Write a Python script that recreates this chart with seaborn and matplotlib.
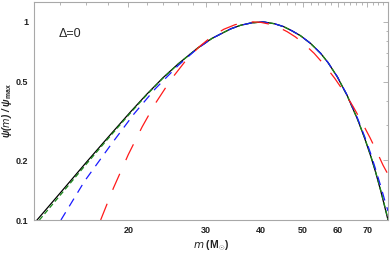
import numpy as np
import pandas as pd
import matplotlib
matplotlib.use('Agg')
import matplotlib.pyplot as plt
import seaborn as sns
from matplotlib.ticker import FixedLocator, FixedFormatter, NullFormatter

# curves (m in solar masses, psi / psi_max)
m_black = [12.2, 14, 16, 18, 20.2, 22, 24, 26, 28.7, 31, 34.2, 36, 38, 40.5, 43, 45.1, 47,
           49.3, 52, 54.8, 57, 59.8, 63, 66.5, 69, 71.3, 73, 75.1, 76.5, 78]
psi_black = [0.096, 0.137, 0.194, 0.262, 0.35, 0.43, 0.523, 0.615, 0.735, 0.825, 0.922, 0.961, 0.987, 1.0,
             0.979, 0.947, 0.905, 0.852, 0.778, 0.694, 0.622, 0.528, 0.424, 0.322, 0.259, 0.209,
             0.176, 0.14, 0.119, 0.1]

m_green = [12.55, 14, 16, 18, 20.2, 22, 24, 26, 28.7, 31, 34.2, 36, 38, 40.5, 43, 45.1, 47,
           49.3, 52, 54.8, 57, 59.8, 63, 66.5, 69, 71.3, 73, 75.1, 76.5, 78]
psi_green = [0.1, 0.1335, 0.19, 0.258, 0.346, 0.427, 0.521, 0.614, 0.735, 0.825, 0.922, 0.961, 0.987, 1.0,
             0.979, 0.947, 0.905, 0.852, 0.778, 0.694, 0.622, 0.528, 0.424, 0.322, 0.26, 0.21,
             0.177, 0.141, 0.12, 0.101]

m_blue = [14.05, 15.9, 18.26, 20.6, 23, 26, 28.7, 31, 34.2, 36, 38, 40.5, 43, 45.1, 47,
          49.3, 52, 54.8, 57, 59.8, 63, 66.5, 69, 71.3, 73, 75.1, 76.5, 78]
psi_blue = [0.1, 0.157, 0.24, 0.343, 0.458, 0.604, 0.732, 0.825, 0.922, 0.961, 0.987, 1.0,
            0.979, 0.947, 0.905, 0.852, 0.778, 0.694, 0.622, 0.529, 0.426, 0.326, 0.264, 0.215,
            0.182, 0.148, 0.128, 0.111]

m_red = [17.3, 18.5, 20, 21.5, 23, 25, 27, 29, 31, 33, 35, 37, 38.5, 40, 42, 44, 46, 48, 50,
         53, 56, 59, 62, 65, 68, 71, 74, 76, 78]
psi_red = [0.1, 0.145, 0.214, 0.295, 0.385, 0.511, 0.636, 0.749, 0.845, 0.918, 0.968, 0.994, 1.0,
           0.995, 0.973, 0.938, 0.892, 0.84, 0.782, 0.693, 0.603, 0.519, 0.442, 0.373, 0.312,
           0.26, 0.215, 0.189, 0.17]

x_major = [20, 30, 40, 50, 60, 70]
x_minor = [12, 14, 16, 18, 22, 24, 26, 28, 32, 34, 36, 38, 42, 44, 46, 48, 52, 54, 56, 58, 62, 64, 66, 68, 72, 74, 76, 78]
y_major = [0.1, 0.2, 0.5, 1]
y_major_labels = ['0.1', '0.2', '0.5', '1']
y_minor = [0.3, 0.4, 0.6, 0.7, 0.8, 0.9]

sns.set_style("white")
plt.rcParams['font.family'] = ['Liberation Sans', 'DejaVu Sans']
plt.rcParams['mathtext.fontset'] = 'custom'
plt.rcParams['mathtext.bf'] = 'Liberation Sans:bold'
plt.rcParams['mathtext.rm'] = 'Liberation Sans:bold'

fig = plt.figure(figsize=(3.9, 2.54), dpi=100)
ax = fig.add_axes([34/390, 1-220/254, 354/390, 218/254])

lw = 0.9
sns.lineplot(x=m_black, y=psi_black, color='black', lw=lw, estimator=None, sort=False, ax=ax)
sns.lineplot(x=m_green, y=psi_green, color='#1a8a1a', lw=lw, estimator=None, sort=False,
             linestyle=(0, (4, 2.4)), ax=ax)
sns.lineplot(x=m_blue, y=psi_blue, color='#1a1aff', lw=lw, estimator=None, sort=False,
             linestyle=(0, (7.2, 5.6)), ax=ax)
sns.lineplot(x=m_red, y=psi_red, color='#ff1a1a', lw=lw, estimator=None, sort=False,
             linestyle=(0, (14, 12)), ax=ax)

ax.set_xscale('log')
ax.set_yscale('log')
ax.set_xlim(12.2, 78.0)
ax.set_ylim(0.1, 1.26)

ax.xaxis.set_major_locator(FixedLocator(x_major))
ax.xaxis.set_major_formatter(FixedFormatter([str(v) for v in x_major]))
ax.xaxis.set_minor_locator(FixedLocator(x_minor))
ax.xaxis.set_minor_formatter(NullFormatter())
ax.yaxis.set_major_locator(FixedLocator(y_major))
ax.yaxis.set_major_formatter(FixedFormatter(y_major_labels))
ax.yaxis.set_minor_locator(FixedLocator(y_minor))
ax.yaxis.set_minor_formatter(NullFormatter())

for s in ax.spines.values():
    s.set_color('#a8a8a8')
    s.set_linewidth(0.8)
ax.tick_params(which='both', direction='in', top=True, right=True, color='#a8a8a8', width=0.6)
ax.tick_params(which='major', length=3.5, labelsize=6.5, pad=4, labelcolor='#222222')
ax.tick_params(which='minor', length=1.8)
for lab in ax.get_xticklabels() + ax.get_yticklabels():
    lab.set_fontweight('bold')

ax.set_xlabel(r'$m$ (M$_{\odot}$)', fontsize=7.5, fontweight='bold', labelpad=3, color='#222222')
ax.set_ylabel(r'ψ($m$) / ψ$_{\mathbf{max}}$', fontsize=7, fontweight='bold', style='italic',
              labelpad=1.5, color='#222222')

ax.text(0.102, 0.851, 'Δ=0', transform=ax.transAxes, ha='center', va='center', fontsize=9)

fig.savefig('out.png', dpi=100)
